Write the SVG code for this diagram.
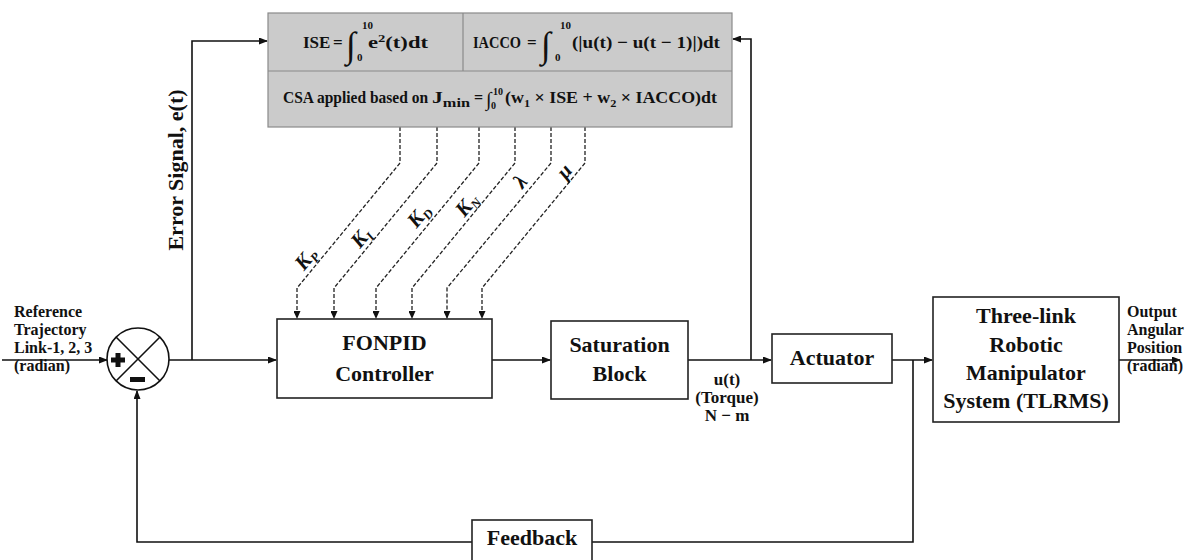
<svg xmlns="http://www.w3.org/2000/svg" width="1190" height="560" viewBox="0 0 1190 560">
<style>
.t{font-family:"Liberation Serif","DejaVu Serif",serif;font-weight:bold;fill:#111}
.ln{stroke:#111;stroke-width:1.6;fill:none}
.box{fill:#fff;stroke:#222;stroke-width:1.6}
.gbox{fill:#cbcbcb;stroke:#8a8a8a;stroke-width:1.2}
.dash{stroke:#222;stroke-width:1.3;stroke-dasharray:4 2;fill:none}
.int{font-family:"Liberation Serif","DejaVu Serif",serif;font-weight:normal;fill:#111}
.lab{font-family:"Liberation Serif","DejaVu Serif",serif;font-weight:bold;font-style:italic;fill:#111;font-size:21px}
</style>
<defs>
<marker id="ah" markerUnits="userSpaceOnUse" markerWidth="9" markerHeight="7" refX="8" refY="3.5" orient="auto"><path d="M0,0 L9,3.5 L0,7 z" fill="#111"/></marker>
<marker id="ahs" markerUnits="userSpaceOnUse" markerWidth="8" markerHeight="7" refX="7" refY="3.5" orient="auto"><path d="M0,0 L8,3.5 L0,7 z" fill="#111"/></marker>
</defs>
<rect width="1190" height="560" fill="#fff"/>

<g id="connectors">
<path class="ln" d="M2,360 H107" marker-end="url(#ah)"/>
<path class="ln" d="M169,360 H276" marker-end="url(#ah)"/>
<path class="ln" d="M192,360 V41 H267" marker-end="url(#ah)"/>
<path class="ln" d="M492,360 H550" marker-end="url(#ah)"/>
<path class="ln" d="M688,360 H771" marker-end="url(#ah)"/>
<path class="ln" d="M751,360 V39 H733" marker-end="url(#ah)"/>
<path class="ln" d="M892,360 H932" marker-end="url(#ah)"/>
<path class="ln" d="M1119,360 H1180" marker-end="url(#ah)"/>
<path class="ln" d="M913,360 V542 H592"/>
<path class="ln" d="M472,542 H137 V391" marker-end="url(#ah)"/>
<path class="dash" d="M400,127 V163 L297,288 V318" marker-end="url(#ahs)"/>
<path class="dash" d="M437,127 V163 L334,288 V318" marker-end="url(#ahs)"/>
<path class="dash" d="M479,127 V163 L376,288 V318" marker-end="url(#ahs)"/>
<path class="dash" d="M515,127 V163 L412,288 V318" marker-end="url(#ahs)"/>
<path class="dash" d="M551,127 V163 L447,288 V318" marker-end="url(#ahs)"/>
<path class="dash" d="M585,127 V163 L482,288 V318" marker-end="url(#ahs)"/>
<text class="lab" transform="translate(311,263) rotate(-50.5)" text-anchor="middle">K<tspan font-size="13" dy="4">P</tspan></text>
<text class="lab" transform="translate(366,242) rotate(-50.5)" text-anchor="middle">K<tspan font-size="13" dy="4">I</tspan></text>
<text class="lab" transform="translate(424,220) rotate(-50.5)" text-anchor="middle">K<tspan font-size="13" dy="4">D</tspan></text>
<text class="lab" transform="translate(472,209) rotate(-50.5)" text-anchor="middle">K<tspan font-size="13" dy="4">N</tspan></text>
<text class="lab" transform="translate(525.5,186) rotate(-50.5)" text-anchor="middle">λ</text>
<text class="lab" transform="translate(569.5,175.5) rotate(-50.5)" text-anchor="middle">μ</text>
<text class="t" font-size="22" transform="translate(183,170) rotate(-90)" text-anchor="middle">Error Signal, e(t)</text>
<g class="t" font-size="17" text-anchor="middle">
<text x="727" y="385">u(t)</text>
<text x="727" y="403">(Torque)</text>
<text x="727" y="421">N − m</text>
</g>
<g class="t" font-size="16">
<text x="14" y="317">Reference</text>
<text x="14" y="335">Trajectory</text>
<text x="14" y="353">Link-1, 2, 3</text>
<text x="14" y="371">(radian)</text>
<text x="1127" y="317">Output</text>
<text x="1127" y="335">Angular</text>
<text x="1127" y="353">Position</text>
<text x="1127" y="371">(radian)</text>
</g>
</g>

<g id="optimizer">
<rect class="gbox" x="268" y="13" width="464" height="114"/>
<line class="gbox" x1="268" y1="71" x2="732" y2="71"/>
<line class="gbox" x1="463" y1="13" x2="463" y2="71"/>
<text class="t" font-size="17" x="303" y="48">ISE</text>
<text class="t" font-size="17" x="333" y="48">=</text>
<text class="int" font-size="36" x="346" y="57">∫</text>
<text class="t" font-size="11" x="362" y="29">10</text>
<text class="t" font-size="11" x="357" y="61">0</text>
<text class="t" font-size="17" x="368" y="48" textLength="60" lengthAdjust="spacingAndGlyphs">e<tspan font-size="11" dy="-6">2</tspan><tspan dy="6">(t)dt</tspan></text>
<text class="t" font-size="16" x="473" y="48" textLength="48" lengthAdjust="spacingAndGlyphs">IACCO</text>
<text class="t" font-size="17" x="527" y="48">=</text>
<text class="int" font-size="36" x="541" y="57">∫</text>
<text class="t" font-size="11" x="560" y="29">10</text>
<text class="t" font-size="11" x="555" y="61">0</text>
<text class="t" font-size="17" x="572" y="48" textLength="148" lengthAdjust="spacingAndGlyphs">(|u(t) − u(t − 1)|)dt</text>
<text class="t" font-size="16" x="283" y="103" textLength="145" lengthAdjust="spacingAndGlyphs">CSA applied based on</text>
<text class="t" font-size="16" x="432" y="103" textLength="38" lengthAdjust="spacingAndGlyphs">J<tspan font-size="12" dy="4">min</tspan></text>
<text class="t" font-size="16" x="474" y="103">=</text>
<text class="int" font-size="20" x="486" y="106">∫</text>
<text class="t" font-size="10" x="493" y="95">10</text>
<text class="t" font-size="10" x="491" y="109">0</text>
<text class="t" font-size="16" x="505" y="103" textLength="212" lengthAdjust="spacingAndGlyphs">(w<tspan font-size="11" dy="4">1</tspan><tspan dy="-4"> × ISE + w</tspan><tspan font-size="11" dy="4">2</tspan><tspan dy="-4"> × IACCO)dt</tspan></text>
</g>

<g id="sum">
<circle cx="138" cy="359" r="31" fill="#fff" stroke="#111" stroke-width="1.6"/>
<line class="ln" x1="116" y1="337" x2="160" y2="381"/>
<line class="ln" x1="160" y1="337" x2="116" y2="381"/>
<rect x="111" y="357.5" width="14" height="5" fill="#111"/>
<rect x="115.5" y="353" width="5" height="14" fill="#111"/>
<rect x="130" y="377" width="15" height="5" fill="#111"/>
</g>

<g id="fonpid">
<rect class="box" x="277" y="319" width="215" height="79"/>
<text class="t" font-size="22" x="384.5" y="350" text-anchor="middle">FONPID</text>
<text class="t" font-size="22" x="384.5" y="381" text-anchor="middle">Controller</text>
</g>

<g id="saturation">
<rect class="box" x="551" y="321" width="137" height="78"/>
<text class="t" font-size="22" x="619.5" y="352" text-anchor="middle">Saturation</text>
<text class="t" font-size="22" x="619.5" y="381" text-anchor="middle">Block</text>
</g>

<g id="actuator">
<rect class="box" x="772" y="334" width="120" height="49"/>
<text class="t" font-size="22" x="832" y="365" text-anchor="middle">Actuator</text>
</g>

<g id="tlrms">
<rect class="box" x="933" y="297" width="186" height="125"/>
<g class="t" font-size="22" text-anchor="middle">
<text x="1026" y="323">Three-link</text>
<text x="1026" y="352">Robotic</text>
<text x="1026" y="380">Manipulator</text>
<text x="1026" y="408">System (TLRMS)</text>
</g>
</g>

<g id="feedback">
<rect class="box" x="472" y="520" width="120" height="50"/>
<text class="t" font-size="22" x="532" y="545" text-anchor="middle">Feedback</text>
</g>
</svg>
